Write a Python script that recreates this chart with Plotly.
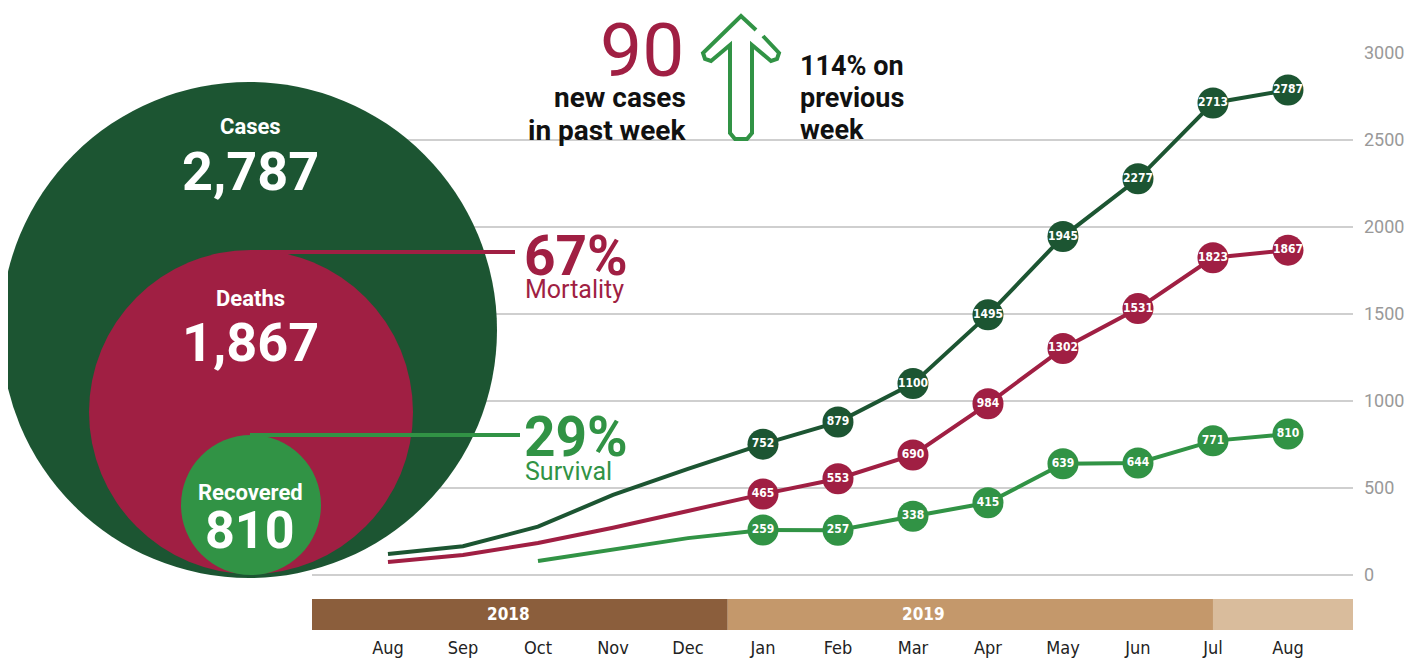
import plotly.graph_objects as go

# page has an 8px body margin; map reference pixels onto the figure
OFF = 8
W, H = 1413, 652

months = ["Aug", "Sep", "Oct", "Nov", "Dec", "Jan", "Feb", "Mar", "Apr", "May", "Jun", "Jul", "Aug"]
month_idx = list(range(len(months)))

cases = [121, 165, 278, 460, 610, 752, 879, 1100, 1495, 1945, 2277, 2713, 2787]
deaths = [75, 115, 184, 272, 368, 465, 553, 690, 984, 1302, 1531, 1823, 1867]
recovered = [None, None, 80, 148, 212, 259, 257, 338, 415, 639, 644, 771, 810]
labelled_from = 5  # markers start at Jan

y_ticks = [0, 500, 1000, 1500, 2000, 2500, 3000]

totals = {"Cases": "2,787", "Deaths": "1,867", "Recovered": "810"}
mortality = "67%"
survival = "29%"
new_cases = "90"
new_lines = ["new cases", "in past week"]
change_lines = ["114% on", "previous", "week"]

C_CASES = "#1c5532"
C_DEATHS = "#a01f43"
C_REC = "#319345"

COND = "DejaVu Sans Condensed, Liberation Sans Narrow, Roboto, sans-serif"
SANS = "Roboto, sans-serif"


def px(x):
    return (x - OFF) / W


def py(y):
    return 1 - (y - OFF) / H


fig = go.Figure()


def add_series(vals, color):
    sizes = [0 if (i < labelled_from or v is None) else 31 for i, v in enumerate(vals)]
    texts = ["" if (i < labelled_from or v is None) else f"<b>{v}</b>" for i, v in enumerate(vals)]
    fig.add_trace(go.Scatter(
        x=month_idx, y=vals, mode="lines+markers+text",
        line=dict(color=color, width=4),
        marker=dict(color=color, size=sizes, opacity=1, line=dict(width=0)),
        text=texts, textposition="middle center",
        textfont=dict(family=COND, size=12, color="white"),
        cliponaxis=False, showlegend=False, hoverinfo="skip",
        connectgaps=False,
    ))


add_series(cases, C_CASES)
add_series(deaths, C_DEATHS)
add_series(recovered, C_REC)

shapes = []


def circle(cx, cy, r, color):
    shapes.append(dict(type="circle", xref="paper", yref="paper",
                       x0=px(cx - r), x1=px(cx + r), y0=py(cy + r), y1=py(cy - r),
                       fillcolor=color, line=dict(width=0), layer="above"))


circle(249, 330, 248, C_CASES)
circle(251, 412, 162, C_DEATHS)
circle(251, 505, 70, C_REC)

# leader lines
shapes.append(dict(type="line", xref="paper", yref="paper", x0=px(250), x1=px(515),
                   y0=py(252), y1=py(252), line=dict(color=C_DEATHS, width=4), layer="above"))
shapes.append(dict(type="line", xref="paper", yref="paper", x0=px(250), x1=px(520),
                   y0=py(435), y1=py(435), line=dict(color=C_REC, width=4), layer="above"))

# year bands
bands = [(-1.013, 4.53, "#8b5e3c"), (4.53, 11.0, "#c4986b"), (11.0, 12.867, "#d9bc9c")]
for x0, x1, col in bands:
    shapes.append(dict(type="rect", xref="x", yref="paper", x0=x0, x1=x1,
                       y0=py(630), y1=py(599), fillcolor=col, line=dict(width=0), layer="above"))

# arrow outline (open path with a small gap on the upper right, as in the original)
pts = [(763, 36), (779, 53), (777, 59), (771, 61), (752, 45), (752, 133), (747, 139),
       (735, 139), (730, 133), (730, 45), (711, 61), (705, 59), (703, 53), (741, 16), (756, 30)]
path = "M " + " L ".join(f"{px(x)},{py(y)}" for x, y in pts)
shapes.append(dict(type="path", xref="paper", yref="paper", path=path,
                   line=dict(color=C_REC, width=4), fillcolor="rgba(0,0,0,0)", layer="above"))

ann = []


def text(x, y, s, size, color, family=SANS, xanchor="center", bold=False):
    ann.append(dict(x=px(x), y=py(y), xref="paper", yref="paper", text=(f"<b>{s}</b>" if bold else s),
                    showarrow=False, xanchor=xanchor, yanchor="middle",
                    font=dict(family=family, size=size, color=color),
                    align="left" if xanchor == "left" else ("right" if xanchor == "right" else "center")))


text(250, 127, "Cases", 22, "white", bold=True)
text(250, 171, totals["Cases"], 54, "white", bold=True)
text(250, 298, "Deaths", 22, "white", bold=True)
text(250, 342, totals["Deaths"], 54, "white", bold=True)
text(250, 492, "Recovered", 22, "white", bold=True)
text(250, 530, totals["Recovered"], 52, "white", bold=True)

text(522, 256, mortality, 55, C_DEATHS, bold=True, xanchor="left")
text(523, 289, "Mortality", 25, C_DEATHS, xanchor="left")
text(522, 437, survival, 55, C_REC, bold=True, xanchor="left")
text(523, 471, "Survival", 25, C_REC, xanchor="left")

text(686, 50, new_cases, 75, C_DEATHS, xanchor="right")
for i, s in enumerate(new_lines):
    text(688, 98 + 32 * i, s, 28, "#111", bold=True, xanchor="right")
for i, s in enumerate(change_lines):
    text(798, 66 + 32 * i, s, 27, "#111", bold=True, xanchor="left")

text(509, 614, "2018", 17, "white", family=COND, bold=True)
text(923, 614, "2019", 17, "white", family=COND, bold=True)

fig.update_layout(
    width=W, height=H, margin=dict(l=0, r=0, t=0, b=0),
    plot_bgcolor="white", paper_bgcolor="white",
    shapes=shapes, annotations=ann,
    xaxis=dict(domain=[px(312), px(1353)], range=[-1.013, 12.867],
               tickvals=month_idx, ticktext=months, showgrid=False, zeroline=False,
               showline=False, ticks="", anchor="free", position=py(635), automargin=False,
               tickfont=dict(family=COND, size=18, color="#222")),
    yaxis=dict(domain=[py(575), py(53)], range=[0, 3000], side="right", automargin=False,
               tickvals=y_ticks, showgrid=True, gridcolor="#cfcfcf", gridwidth=1.5,
               zeroline=True, zerolinecolor="#cfcfcf", zerolinewidth=1.5,
               showline=False, ticks="", ticklabelstandoff=10,
               tickfont=dict(family=SANS, size=18, color="#999")),
)

fig.write_html("out.html")
